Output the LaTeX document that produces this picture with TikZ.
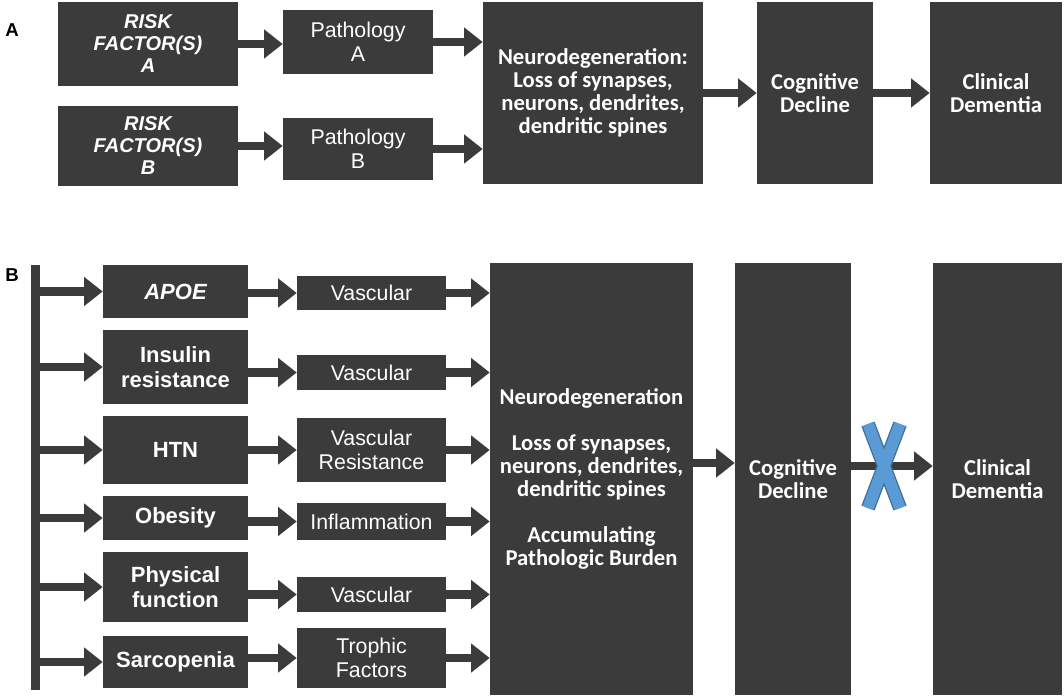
\documentclass[tikz,border=0pt]{standalone}
\usepackage{fontspec}
\setmainfont{Liberation Sans}
\newfontfamily\carl{Carlito}
\usetikzlibrary{arrows.meta}
\definecolor{bx}{HTML}{3B3B3B}
\definecolor{xb}{HTML}{5B9BD5}
\definecolor{xo}{HTML}{41719C}
\begin{document}
\begin{tikzpicture}[x=0.75pt,y=-0.75pt,
 box/.style={fill=bx,draw=none,text=white,align=center,inner sep=0pt},
 rf/.style={box,font=\bfseries\itshape\fontsize{15}{16.5}\selectfont},
 pa/.style={box,font=\fontsize{16}{18}\selectfont},
 rb/.style={box,font=\bfseries\fontsize{16.5}{19}\selectfont},
 cb/.style={box,font=\carl\bfseries\fontsize{17}{17.3}\selectfont},
 ar/.style={draw=bx,line width=6.5pt,-{Triangle[length=14pt,width=21pt]}},
 lab/.style={font=\bfseries\fontsize{14}{16}\selectfont}]
\useasboundingbox (0,0) rectangle (1064,698);
\def\bx#1#2#3#4#5#6#7{\node[#2,minimum width={(#5-#3)*0.75pt},minimum height={(#6-#4)*0.75pt}] (#1) at ({(#3+#5)/2},{(#4+#6)/2}) {#7};}
\node[lab] (la) at (12,30) {A};
\node[lab] (lb) at (12,275) {B};
% Panel A
\bx{ra}{rf}{58}{2}{238}{86}{RISK\\FACTOR(S)\\A}
\bx{rbb}{rf}{58}{106}{238}{186}{RISK\\FACTOR(S)\\B}
\bx{pa}{pa}{283}{10}{433}{74}{Pathology\\A}
\bx{pb}{pa}{283}{118}{433}{180}{Pathology\\B}
\bx{na}{cb}{483}{2}{703}{184}{Neurodegeneration:\\Loss of synapses,\\neurons, dendrites,\\dendritic spines}
\bx{ca}{cb}{757}{2}{873}{184}{Cognitive\\Decline}
\bx{da}{cb}{930}{2}{1062}{184}{Clinical\\Dementia}
\draw[ar] (ra.east) -- (pa.west |- ra.east);
\draw[ar] (rbb.east) -- (pb.west |- rbb.east);
\draw[ar] (pa.east) -- (na.west |- pa.east);
\draw[ar] (pb.east) -- (na.west |- pb.east);
\draw[ar] (na.east) -- (ca.west |- na.east);
\draw[ar] (ca.east) -- (da.west |- ca.east);
% Panel B
\bx{bar}{box}{31}{265}{40}{690}{}
\bx{b1}{rb}{103}{265}{248}{318}{\itshape APOE}
\bx{b2}{rb}{103}{330}{248}{404}{Insulin\\resistance}
\bx{b3}{rb}{103}{416}{248}{484}{HTN}
\bx{b4}{rb}{103}{496}{248}{540}{Obesity}
\bx{b5}{rb}{103}{552}{248}{622}{Physical\\function}
\bx{b6}{rb}{103}{636}{248}{688}{Sarcopenia}
\bx{m1}{pa}{297}{276}{446}{310}{Vascular}
\bx{m2}{pa}{297}{355}{446}{390}{Vascular}
\bx{m3}{pa}{297}{418}{446}{482}{Vascular\\Resistance}
\bx{m4}{pa}{297}{503}{446}{540}{Inflammation}
\bx{m5}{pa}{297}{577}{446}{612}{Vascular}
\bx{m6}{pa}{297}{628}{446}{688}{Trophic\\Factors}
\bx{nb}{cb}{490}{263}{693}{695}{Neurodegeneration\\[17pt]Loss of synapses,\\neurons, dendrites,\\dendritic spines\\[17pt]Accumulating\\Pathologic Burden}
\bx{cbx}{cb}{735}{263}{851}{695}{Cognitive\\Decline}
\bx{db}{cb}{933}{263}{1062}{695}{Clinical\\Dementia}
\foreach \i in {1,...,6}{
 \draw[ar] (bar.east |- b\i.west) -- (b\i.west);
 \draw[ar] (b\i.east |- m\i.west) -- (m\i.west);
 \draw[ar] (m\i.east) -- (nb.west |- m\i.east);
}
\draw[ar] (nb.east |- 0,463) -- (cbx.west |- 0,463);
\coordinate (xc) at (884,466);
\draw[ar] (cbx.east |- xc) -- (db.west |- xc);
\draw[xo,line width=10.5pt] (868,424) -- (900,508) (900,424) -- (868,508);
\draw[xb,line width=8.5pt] (868,424) -- (900,508) (900,424) -- (868,508);
\end{tikzpicture}
\end{document}
